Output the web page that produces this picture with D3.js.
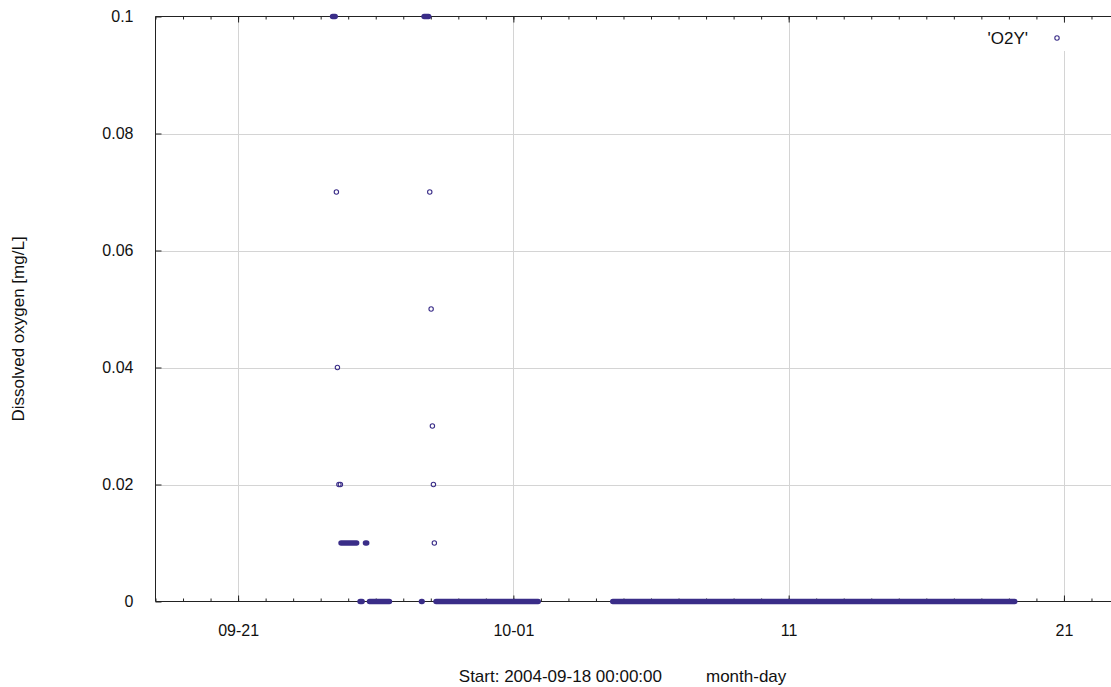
<!DOCTYPE html>
<html>
<head>
<meta charset="utf-8">
<script src="https://cdn.jsdelivr.net/npm/d3@7"></script>
<style>
  body { margin: 0; background: #fff; }
  svg { display: block; font-family: "Liberation Sans", Arial, sans-serif; }
  .grid line { stroke: #d4d4d4; stroke-width: 1; }
  .axis path { display: none; }
  .axis line { stroke: #222; }
  .axis text { font-size: 16px; fill: #111; font-family: "Liberation Sans", Arial, sans-serif; }
  .label { font-size: 17px; fill: #111; }
</style>
</head>
<body>
<div id="chart"></div>
<script>
// isolated samples
var pointTimes = ['2004-09-24 13:42', '2004-09-24 14:36', '2004-09-24 15:54', '2004-09-24 17:12',
    '2004-09-27 23:06', '2004-09-28 00:18', '2004-09-28 01:24', '2004-09-28 02:18', '2004-09-28 03:06'];
var pointValues = [0.07, 0.04, 0.02, 0.02, 0.07, 0.05, 0.03, 0.02, 0.01];

// runs of dense samples with a constant value
var runStart = ['2004-09-24 10:24', '2004-09-27 18:12', '2004-09-24 17:48', '2004-09-25 15:06',
    '2004-09-25 10:24', '2004-09-25 18:36', '2004-09-27 15:54', '2004-09-28 04:36', '2004-10-04 14:42'];
var runEnd = ['2004-09-24 12:36', '2004-09-27 22:06', '2004-09-25 07:18', '2004-09-25 16:06',
    '2004-09-25 12:06', '2004-09-26 11:54', '2004-09-27 16:24', '2004-10-01 21:36', '2004-10-19 05:06'];
var runValues = [0.1, 0.1, 0.01, 0.01, 0, 0, 0, 0, 0];

var majorTickDates = ['2004-09-21 00:00', '2004-10-01 00:00', '2004-10-11 00:00', '2004-10-21 00:00'];
var majorTickLabels = ['09-21', '10-01', '11', '21'];
var yTickValues = [0, 0.02, 0.04, 0.06, 0.08, 0.1];
var yTickLabels = ['0', '0.02', '0.04', '0.06', '0.08', '0.1'];

(function() {
    var parse = d3.timeParse('%Y-%m-%d %H:%M');
    var options = {
        width: 1111,
        height: 687,
        left: 155.5,
        top: 16.5,
        bottom: 601.5,
        right: 1119,
        color: '#3a2d88'
    };

    var svg = d3.select('#chart').append('svg')
        .attr('width', options.width)
        .attr('height', options.height);

    var x = d3.scaleTime()
        .domain([parse('2004-09-18 00:00'), parse('2004-10-23 00:00')])
        .range([options.left, options.right]);

    var y = d3.scaleLinear()
        .domain([0, 0.1])
        .range([options.bottom, options.top]);

    var majors = majorTickDates.map(parse);

    // grid
    var grid = svg.append('g').classed('grid', true);
    grid.selectAll('.vgrid').data(majors).enter().append('line')
        .attr('x1', function(d) { return Math.round(x(d)) + 0.5; })
        .attr('x2', function(d) { return Math.round(x(d)) + 0.5; })
        .attr('y1', options.top)
        .attr('y2', options.bottom);
    grid.selectAll('.hgrid').data(yTickValues.slice(1, -1)).enter().append('line')
        .attr('x1', options.left)
        .attr('x2', options.right)
        .attr('y1', function(d) { return Math.round(y(d)) + 0.5; })
        .attr('y2', function(d) { return Math.round(y(d)) + 0.5; });

    // legend box hides the grid behind it
    svg.append('rect')
        .attr('x', 975).attr('y', 23)
        .attr('width', 110).attr('height', 28)
        .attr('fill', '#fff');

    // minor daily ticks
    var minorDays = d3.timeDay.range(x.domain()[0], x.domain()[1]);

    svg.append('g').classed('axis', true)
        .attr('transform', 'translate(0,' + options.bottom + ')')
        .call(d3.axisBottom(x).tickValues(minorDays).tickSize(-3).tickFormat(''));
    svg.append('g').classed('axis', true)
        .attr('transform', 'translate(0,' + options.top + ')')
        .call(d3.axisTop(x).tickValues(minorDays).tickSize(-3).tickFormat(''));

    svg.append('g').classed('axis', true)
        .attr('transform', 'translate(0,' + options.bottom + ')')
        .call(d3.axisBottom(x).tickValues(majors).tickSize(-6).tickPadding(23)
            .tickFormat(function(d, i) { return majorTickLabels[i]; }));
    svg.append('g').classed('axis', true)
        .attr('transform', 'translate(0,' + options.top + ')')
        .call(d3.axisTop(x).tickValues(majors).tickSize(-6).tickFormat(''));

    svg.append('g').classed('axis', true)
        .attr('transform', 'translate(' + options.left + ',0)')
        .call(d3.axisLeft(y).tickValues(yTickValues).tickSize(-6).tickPadding(22)
            .tickFormat(function(d, i) { return yTickLabels[i]; }));

    // border
    svg.append('path')
        .attr('d', 'M' + options.right + ',' + options.top + 'H' + options.left + 'V' + options.bottom + 'H' + options.right)
        .attr('fill', 'none')
        .attr('stroke', '#222')
        .attr('stroke-width', 1);

    // dense runs drawn as bands of overlapping markers
    svg.append('g').selectAll('line').data(runValues).enter().append('line')
        .attr('x1', function(d, i) { return x(parse(runStart[i])); })
        .attr('x2', function(d, i) { return x(parse(runEnd[i])); })
        .attr('y1', function(d) { return y(d); })
        .attr('y2', function(d) { return y(d); })
        .attr('stroke', options.color)
        .attr('stroke-width', 5.6)
        .attr('stroke-linecap', 'round');

    svg.append('g').selectAll('circle').data(pointValues).enter().append('circle')
        .attr('cx', function(d, i) { return x(parse(pointTimes[i])); })
        .attr('cy', function(d) { return y(d); })
        .attr('r', 2.2)
        .attr('fill', 'none')
        .attr('stroke', options.color)
        .attr('stroke-width', 1.1);

    // legend
    svg.append('text').classed('label', true)
        .attr('x', 1028).attr('y', 38).attr('dy', '0.35em')
        .attr('text-anchor', 'end')
        .text("'O2Y'");
    svg.append('circle')
        .attr('cx', 1057).attr('cy', 38).attr('r', 2.2)
        .attr('fill', 'none').attr('stroke', options.color).attr('stroke-width', 1.1);

    // axis labels
    svg.append('text').classed('label', true)
        .attr('x', 662).attr('y', 676).attr('dy', '0.35em')
        .attr('text-anchor', 'end')
        .text('Start: 2004-09-18 00:00:00');
    svg.append('text').classed('label', true)
        .attr('x', 706).attr('y', 676).attr('dy', '0.35em')
        .text('month-day');
    svg.append('text').classed('label', true)
        .attr('transform', 'translate(18,' + 329 + ') rotate(-90)')
        .attr('dy', '0.35em')
        .attr('text-anchor', 'middle')
        .text('Dissolved oxygen [mg/L]');
})();
</script>
</body>
</html>
